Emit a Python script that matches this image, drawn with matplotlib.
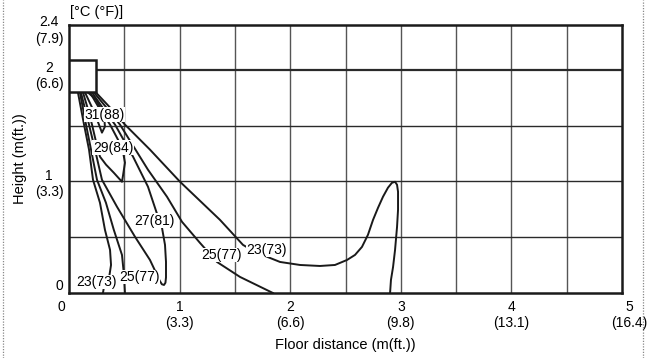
"""
Air temperature distribution
============================
Isotherms of the discharged air below a wall-mounted indoor unit.
"""

import matplotlib
matplotlib.use("Agg")
import matplotlib.pyplot as plt
import matplotlib.patches as mpatches
from matplotlib.lines import Line2D
from matplotlib.transforms import ScaledTranslation
import numpy as np

plt.rcParams["font.family"] = ["Liberation Sans", "DejaVu Sans"]


# ─────────────────────────────────────────
# 1. Data (metres)
# ─────────────────────────────────────────

X_TICKS = [0, 1, 2, 3, 4, 5]
X_TICK_LABELS = ["0", "1\n(3.3)", "2\n(6.6)", "3\n(9.8)", "4\n(13.1)", "5\n(16.4)"]
Y_TICKS = [0, 1, 2, 2.4]
Y_TICK_LABELS = ["0", "1\n(3.3)", "2\n(6.6)", "2.4\n(7.9)"]

# indoor unit outline: x0, y0, width, height
UNIT = [0.0, 1.80, 0.245, 0.29]

# isotherms
ISO31_X = [0.145, 0.217, 0.271, 0.298, 0.325, 0.316, 0.244, 0.172]
ISO31_Y = [1.795, 1.643, 1.508, 1.436, 1.490, 1.598, 1.733, 1.795]

ISO29_X = [0.127, 0.172, 0.208, 0.244, 0.280, 0.335, 0.405, 0.479,
           0.488, 0.506, 0.488, 0.443, 0.371, 0.280, 0.190]
ISO29_Y = [1.795, 1.643, 1.508, 1.355, 1.221, 1.149, 1.077, 0.996,
           1.050, 1.167, 1.266, 1.373, 1.508, 1.643, 1.795]

ISO27_X = [0.108, 0.181, 0.235, 0.298, 0.434, 0.597, 0.732, 0.796, 0.820, 0.840, 0.859,
           0.872, 0.877, 0.877, 0.868, 0.841, 0.805, 0.714, 0.579, 0.416, 0.316, 0.208]
ISO27_Y = [1.795, 1.508, 1.284, 1.014, 0.772, 0.503, 0.296, 0.162, 0.110, 0.078, 0.072,
           0.092, 0.140, 0.278, 0.431, 0.583, 0.682, 0.952, 1.221, 1.508, 1.643, 1.795]

ISO25_LEFT_X = [0.099, 0.154, 0.199, 0.253, 0.334, 0.405, 0.479, 0.497, 0.506]
ISO25_LEFT_Y = [1.795, 1.508, 1.284, 1.014, 0.808, 0.566, 0.341, 0.162, 0.0]

ISO23_LEFT_X = [0.081, 0.136, 0.181, 0.217, 0.280, 0.325, 0.371, 0.380, 0.362, 0.316, 0.307]
ISO23_LEFT_Y = [1.795, 1.508, 1.284, 1.014, 0.808, 0.566, 0.386, 0.251, 0.135, 0.054, 0.0]

ISO25_RIGHT_X = [0.226, 0.353, 0.461, 0.714, 0.886, 1.022, 1.184, 1.338, 1.546, 1.844]
ISO25_RIGHT_Y = [1.795, 1.643, 1.508, 1.104, 0.862, 0.637, 0.449, 0.278, 0.144, 0.0]

ISO23_RIGHT_X = [0.244, 0.371, 0.506, 0.732, 1.004, 1.365, 1.573, 1.682, 1.817, 1.908,
                 2.089, 2.269, 2.405, 2.514, 2.586, 2.649, 2.703, 2.749, 2.794, 2.839,
                 2.884, 2.920, 2.948, 2.966, 2.975, 2.975, 2.966, 2.948, 2.930, 2.911, 2.903]
ISO23_RIGHT_Y = [1.795, 1.661, 1.508, 1.284, 0.996, 0.655, 0.431, 0.368, 0.314, 0.278,
                 0.251, 0.242, 0.251, 0.296, 0.341, 0.413, 0.521, 0.655, 0.763, 0.862,
                 0.943, 0.987, 0.996, 0.969, 0.907, 0.745, 0.592, 0.386, 0.233, 0.117, 0.0]

# isotherm labels
LABELS = ["31(88)", "29(84)", "27(81)", "25(77)", "23(73)", "25(77)", "23(73)"]
LABEL_X = [0.325, 0.398, 0.769, 0.633, 0.253, 1.383, 1.790]
LABEL_Y = [1.598, 1.302, 0.646, 0.144, 0.099, 0.341, 0.386]


# ─────────────────────────────────────────
# 2. Figure
# ─────────────────────────────────────────

fig = plt.figure(figsize=(6.5, 3.58), dpi=100)
ax = fig.add_axes([69 / 650, 1 - 293 / 358, 553 / 650, 268 / 358])
ax.set_xlim(0, 5)
ax.set_ylim(0, 2.4)

# 0.5 m grid
for gx in np.arange(0.5, 5.0, 0.5):
    ax.axvline(gx, color="#555555", lw=1.0, zorder=1)
for gy in np.arange(0.5, 2.4, 0.5):
    ax.axhline(gy, color="#2a2a2a", lw=1.0 if gy != 2.0 else 1.6, zorder=1)

for s in ax.spines.values():
    s.set_linewidth(1.8)
    s.set_color("#1a1a1a")

ax.set_xticks(X_TICKS, X_TICK_LABELS, fontsize=10)
ax.set_yticks(Y_TICKS, Y_TICK_LABELS, fontsize=10)
ax.tick_params(length=0)
ax.tick_params(axis="x", pad=5)
ax.tick_params(axis="y", pad=4)
for lbl in ax.get_yticklabels():
    lbl.set_multialignment("center")

# nudge end labels like the original
dpi_scale = fig.dpi_scale_trans
xl = ax.get_xticklabels()
xl[0].set_transform(xl[0].get_transform() + ScaledTranslation(-8 / 100, 0, dpi_scale))
xl[-1].set_transform(xl[-1].get_transform() + ScaledTranslation(7 / 100, 0, dpi_scale))
yl = ax.get_yticklabels()
for lbl, dy in zip(yl, [8, 0, -4, -3]):
    lbl.set_transform(lbl.get_transform() + ScaledTranslation(0, dy / 100, dpi_scale))

ax.set_xlabel("Floor distance (m(ft.))", fontsize=10.5)
ax.set_ylabel("Height (m(ft.))", fontsize=10.5)
ax.xaxis.set_label_coords(0.5, -0.168)
ax.yaxis.set_label_coords(-0.076, 0.5)

fig.text(70 / 650, 1 - 12 / 358, "[°C (°F)]", fontsize=10.5, ha="left", va="center")

# indoor unit
ax.add_patch(mpatches.Rectangle((UNIT[0], UNIT[1]), UNIT[2], UNIT[3],
                                facecolor="white", edgecolor="#1a1a1a", lw=1.8, zorder=4))

# isotherms
curves = [
    (ISO31_X, ISO31_Y), (ISO29_X, ISO29_Y), (ISO27_X, ISO27_Y),
    (ISO25_LEFT_X, ISO25_LEFT_Y), (ISO23_LEFT_X, ISO23_LEFT_Y),
    (ISO25_RIGHT_X, ISO25_RIGHT_Y), (ISO23_RIGHT_X, ISO23_RIGHT_Y),
]
for cx, cy in curves:
    ax.plot(cx, cy, color="#1a1a1a", lw=1.4, solid_joinstyle="round", zorder=3)

for txt, lx, ly in zip(LABELS, LABEL_X, LABEL_Y):
    ax.text(lx, ly, txt, fontsize=10, ha="center", va="center", zorder=5,
            bbox=dict(facecolor="white", edgecolor="none", pad=0.3))

# dotted page border
for bx in (3 / 650, 643 / 650):
    fig.add_artist(Line2D([bx, bx], [0, 1], transform=fig.transFigure,
                          color="#888888", lw=0.9, ls=(0, (1, 1.2))))

fig.savefig("out.png", dpi=100)
plt.close()
